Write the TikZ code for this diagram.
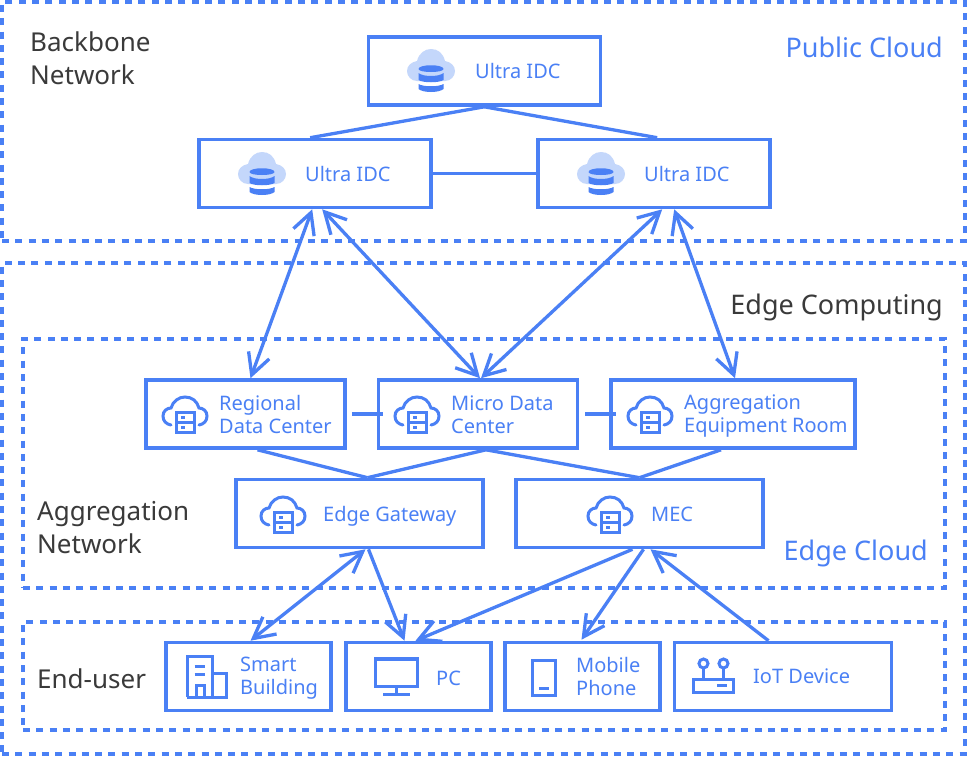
\documentclass[tikz,border=0pt]{standalone}
\usepackage{fontspec}
\setmainfont{Noto Sans}
\usetikzlibrary{arrows.meta}
\definecolor{bl}{HTML}{4A80F5}
\definecolor{lbl}{HTML}{C4D7FB}
\definecolor{dk}{HTML}{3A3A3A}
\tikzset{
 boxn/.style={draw=bl,line width=3.6pt,fill=white,inner sep=0pt,minimum width=#1,minimum height=68pt},
 zone/.style={draw=bl,line width=3.2pt,dash pattern=on 7pt off 6.3pt,inner sep=0pt},
 conn/.style={draw=bl,line width=3.3pt},
 dbl/.style={conn,{Straight Barb[length=21pt,width=22pt,line width=3.3pt]}-{Straight Barb[length=21pt,width=22pt,line width=3.3pt]}},
 sgl/.style={conn,-{Straight Barb[length=21pt,width=22pt,line width=3.3pt]}},
 txt/.style={text=bl,font=\fontsize{20}{23}\selectfont,align=left,inner sep=0pt},
 dark/.style={text=dk,font=\fontsize{26}{33}\selectfont,align=left,inner sep=0pt},
 zlabel/.style={text=bl,font=\fontsize{27}{33}\selectfont,inner sep=0pt},
 ico/.style={draw=bl,line width=3pt},
}
\newcommand\dbicon[2]{\begin{scope}[shift={(#1,#2)}]
 \fill[lbl] (-14,11) .. controls (-20,11) and (-24,6) .. (-24,1) .. controls (-24,-4) and (-20,-8) .. (-14,-9)
   .. controls (-12,-17) and (-6,-21) .. (0,-21) .. controls (7,-21) and (12,-17) .. (14,-9)
   .. controls (20,-8) and (24,-4) .. (24,1) .. controls (24,6) and (20,11) .. (14,11) -- cycle;
 \fill[bl] (-12.5,-1) .. controls (-12.5,-6) and (12.5,-6) .. (12.5,-1) .. controls (12.5,3) and (-12.5,3) .. (-12.5,-1) -- cycle;
 \fill[bl] (-12.5,3) .. controls (-8,7) and (8,7) .. (12.5,3) -- (12.5,10) .. controls (8,13) and (-8,13) .. (-12.5,10) -- cycle;
 \fill[bl] (-12.5,14) .. controls (-8,17) and (8,17) .. (12.5,14) -- (12.5,19) .. controls (8,23) and (-8,23) .. (-12.5,19) -- cycle;
 \end{scope}}
\newcommand\cloudicon[2]{\begin{scope}[shift={(#1,#2)}]
 \draw[ico,line cap=round] (-14,10) .. controls (-19,9) and (-22,6) .. (-22,1) .. controls (-22,-4) and (-18,-7) .. (-14,-7)
   .. controls (-12,-14) and (-6,-18) .. (0,-18) .. controls (7,-18) and (12,-14) .. (14,-7)
   .. controls (18,-7) and (22,-4) .. (22,1) .. controls (22,6) and (19,9) .. (14,10);
 \draw[ico,fill=white] (-9,-3) rectangle (9,17);
 \draw[ico] (-9,7) -- (9,7);
 \fill[bl] (-4,0.5) rectangle (0,3.5);
 \fill[bl] (-4,10.5) rectangle (0,13.5);
 \end{scope}}
\begin{document}
\begin{tikzpicture}[x=1pt,y=-1pt]
\useasboundingbox (0,0) rectangle (967,756);
\fill[white] (0,0) rectangle (967,756);
% zones
\node[zone,minimum width=963pt,minimum height=239pt] (zpublic) at (483.5,121.5) {};
\node[zone,minimum width=963pt,minimum height=491pt] (zedge) at (483.5,508.5) {};
\node[zone,minimum width=922pt,minimum height=249pt] (zcloud) at (484,463.5) {};
\node[zone,minimum width=922pt,minimum height=108pt] (zuser) at (484,676) {};
% boxes
\node[boxn=232pt] (u1) at (484.3,71) {};
\node[boxn=232pt] (u2) at (315.2,173.5) {};
\node[boxn=232pt] (u3) at (654.2,173.5) {};
\node[boxn=199pt] (r) at (245.5,414) {};
\node[boxn=199pt] (m) at (478,414) {};
\node[boxn=244pt] (a) at (733,414) {};
\node[boxn=247pt] (eg) at (359.5,513.5) {};
\node[boxn=247pt] (mec) at (639.5,513.5) {};
\node[boxn=165pt] (sb) at (248.5,676.5) {};
\node[boxn=145pt] (pc) at (418.5,676.5) {};
\node[boxn=155pt] (mp) at (582.5,676.5) {};
\node[boxn=217pt] (iot) at (783,676.5) {};
% connectors
\draw[conn] (u1.south) -- ([xshift=-5pt]u2.north);
\draw[conn] (u1.south) -- ([xshift=3pt]u3.north);
\draw[conn] (u2.east) -- (u3.west);
\draw[dbl] ([xshift=-3pt]u2.south) -- ([xshift=5pt]r.north);
\draw[dbl] ([xshift=7pt]u2.south) -- ([xshift=2pt]m.north);
\draw[dbl] ([xshift=8pt]u3.south) -- ([xshift=3pt]m.north);
\draw[dbl] ([xshift=20pt]u3.south) -- ([xshift=2pt]a.north);
\draw[conn] ([xshift=5pt]r.east) -- ([xshift=6pt]m.west);
\draw[conn] ([xshift=6pt]m.east) -- ([xshift=7pt]a.west);
\draw[conn] ([xshift=12pt]r.south) -- ([xshift=8pt]eg.north);
\draw[conn] ([xshift=8pt]m.south) -- ([xshift=8pt]eg.north);
\draw[conn] ([xshift=8pt]m.south) -- (mec.north);
\draw[conn] ([xshift=-12pt]a.south) -- (mec.north);
\draw[dbl] ([xshift=6pt]eg.south) -- ([xshift=2pt]sb.north);
\draw[sgl] ([xshift=9pt]eg.south) -- ([xshift=-14pt]pc.north);
\draw[sgl] ([xshift=-7pt]mec.south) -- ([xshift=-3pt]pc.north);
\draw[sgl] ([xshift=4pt]mec.south) -- ([xshift=-1pt,yshift=1pt]mp.north);
\draw[sgl] ([xshift=-14.5pt]iot.north) -- ([xshift=11pt]mec.south);
% icons
\dbicon{431}{70}
\dbicon{262}{173}
\dbicon{601}{173}
\cloudicon{185}{415}
\cloudicon{417}{415}
\cloudicon{650}{415}
\cloudicon{283}{515}
\cloudicon{610}{515}
% building
\draw[ico] (187,697) -- (187,656.5) -- (212,656.5) -- (212,697);
\draw[ico] (187,697) -- (226.5,697) -- (226.5,673.5) -- (212,673.5);
\draw[ico] (194.5,666) -- (205,666);
\draw[ico] (194.5,674) -- (205,674);
\draw[ico] (196,697) -- (196,685) -- (204,685) -- (204,697);
% pc
\draw[ico,line width=3.4pt] (375.5,659) rectangle (417.5,686.5);
\draw[ico] (396.5,686.5) -- (396.5,694);
\draw[ico] (383,694) -- (410,694);
% phone
\draw[ico] (532.5,660.5) rectangle (555.5,695.5);
\draw[ico] (539,688.5) -- (549,688.5);
% iot
\draw[ico] (693.5,679.5) rectangle (733,692.5);
\draw[ico] (717,685.5) -- (727,685.5);
\draw[ico] (703.5,668) -- (703.5,679.5);
\draw[ico] (723.5,668) -- (723.5,679.5);
\draw[ico] (703.5,663.5) circle (4.5pt);
\draw[ico] (723.5,663.5) circle (4.5pt);
% labels
\node[txt,anchor=west] (tu1) at (475,71) {Ultra IDC};
\node[txt,anchor=west] (tu2) at (305,174) {Ultra IDC};
\node[txt,anchor=west] (tu3) at (644,174) {Ultra IDC};
\node[txt,anchor=west] (tr) at (219,414.5) {Regional\\Data Center};
\node[txt,anchor=west] (tm) at (451,414.5) {Micro Data\\Center};
\node[txt,anchor=west] (ta) at (684,416.5) {Aggregation\\Equipment Room};
\node[txt,anchor=west] (teg) at (323,516) {Edge Gateway};
\node[txt,anchor=west] (tmec) at (651,514) {MEC};
\node[txt,anchor=west] (tsb) at (240,678.5) {Smart\\Building};
\node[txt,anchor=west] (tpc) at (436,678) {PC};
\node[txt,anchor=west] (tmp) at (576,676.5) {Mobile\\Phone};
\node[txt,anchor=west] (tiot) at (753,676) {IoT Device};
\node[dark,anchor=west] (lb) at (30,58.5) {Backbone\\Network};
\node[dark,anchor=west] (la) at (37,528) {Aggregation\\Network};
\node[dark,anchor=west] (le) at (37,678.5) {End-user};
\node[dark,anchor=east,font=\fontsize{27}{33}\selectfont] (lec) at (943,307) {Edge Computing};
\node[zlabel,anchor=east] (lpc) at (943,47) {Public Cloud};
\node[zlabel,anchor=east] (lcl) at (928,553) {Edge Cloud};
\end{tikzpicture}
\end{document}
